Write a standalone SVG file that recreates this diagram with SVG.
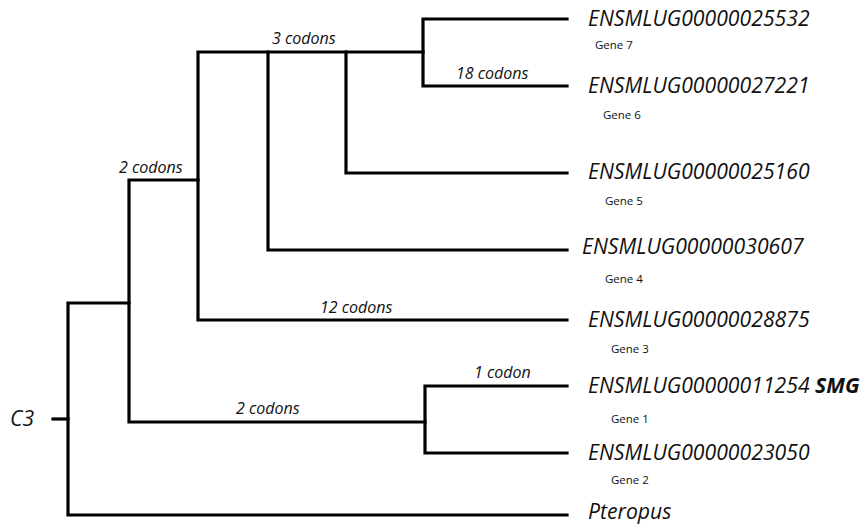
<svg xmlns="http://www.w3.org/2000/svg" width="863" height="524" viewBox="0 0 863 524">
<style>
.br{fill:none;stroke:#000;stroke-width:3.2;stroke-linecap:square;stroke-linejoin:miter}
.lf{font-family:"Open Sans","Liberation Sans",sans-serif;font-style:italic;font-size:21.2px;fill:#111}
.gn{font-family:"Open Sans","Liberation Sans",sans-serif;font-size:11.5px;fill:#111}
.cd{font-family:"Open Sans","Liberation Sans",sans-serif;font-style:italic;font-size:16px;fill:#111}
.bd{font-weight:bold}
</style>
<rect width="863" height="524" fill="#fff"/>
<g id="connectors">
<path class="br" d="M53,419 H68"/>
<path class="br" d="M567,515 H68 V303 H129"/>
<path class="br" d="M198,180 H129 V422 H425"/>
<path class="br" d="M567,386 H425 V453 H567"/>
<path class="br" d="M567,320 H198 V52 H423"/>
<path class="br" d="M567,19 H423 V86 H567"/>
<path class="br" d="M268,52 V250 H567"/>
<path class="br" d="M346,52 V173 H567"/>
<text class="cd" x="272" y="44">3 codons</text>
<text class="cd" x="119" y="173">2 codons</text>
<text class="cd" x="320" y="313">12 codons</text>
<text class="cd" x="236" y="414">2 codons</text>
<text class="cd" x="456" y="79">18 codons</text>
<text class="cd" x="474" y="378">1 codon</text>
</g>
<g id="root"><text class="lf" x="10" y="426">C3</text></g>
<g id="gene7"><text class="lf" x="588" y="26">ENSMLUG00000025532</text><text class="gn" x="595" y="49">Gene 7</text></g>
<g id="gene6"><text class="lf" x="588" y="93">ENSMLUG00000027221</text><text class="gn" x="603" y="119">Gene 6</text></g>
<g id="gene5"><text class="lf" x="588" y="179">ENSMLUG00000025160</text><text class="gn" x="605" y="205">Gene 5</text></g>
<g id="gene4"><text class="lf" x="582" y="254">ENSMLUG00000030607</text><text class="gn" x="605" y="283">Gene 4</text></g>
<g id="gene3"><text class="lf" x="588" y="327">ENSMLUG00000028875</text><text class="gn" x="611" y="353">Gene 3</text></g>
<g id="gene1"><text class="lf" x="588" y="393">ENSMLUG00000011254 <tspan class="bd">SMG</tspan></text><text class="gn" x="611" y="423">Gene 1</text></g>
<g id="gene2"><text class="lf" x="588" y="460">ENSMLUG00000023050</text><text class="gn" x="611" y="484">Gene 2</text></g>
<g id="pteropus"><text class="lf" x="588" y="518.5">Pteropus</text></g>
</svg>
